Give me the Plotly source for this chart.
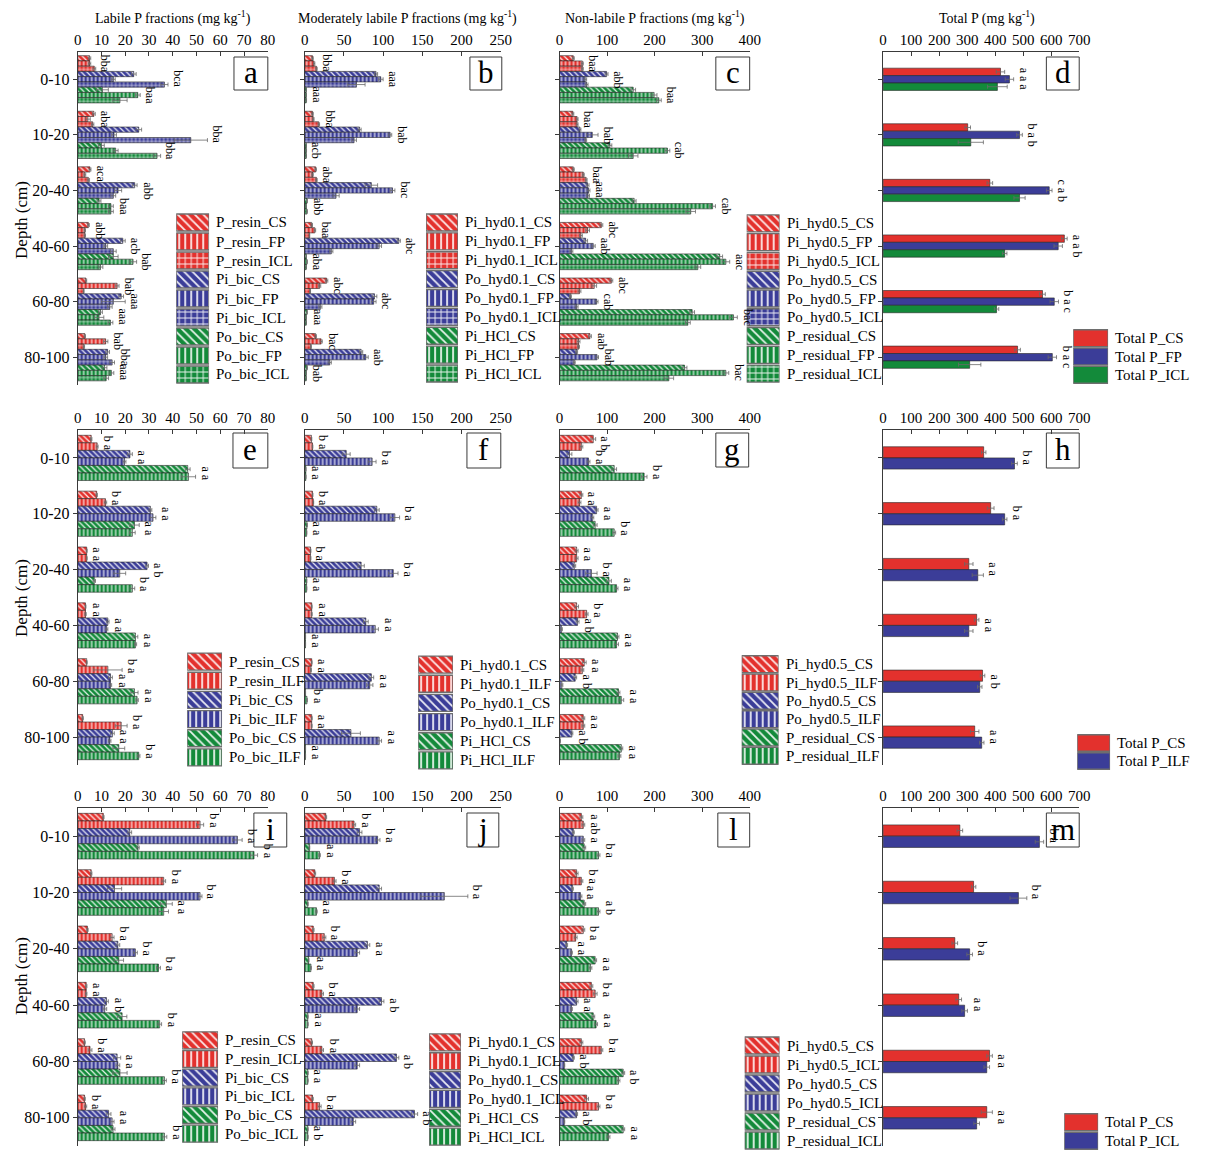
import plotly.graph_objects as go

W, H = 1210, 1151
SERIF = "Liberation Serif"
DEPTHS = ["0-10", "10-20", "20-40", "40-60", "60-80", "80-100"]
RED, BLUE, GREEN = "#E3312D", "#3B3D98", "#138A3A"

# ---------------- Row 1: CS / FP / ICL ----------------
a_names = ["P_resin_CS", "P_resin_FP", "P_resin_ICL",
           "Pi_bic_CS", "Pi_bic_FP", "Pi_bic_ICL",
           "Po_bic_CS", "Po_bic_FP", "Po_bic_ICL"]
a_vals = [
    [5.0, 6.8, 5.2, 4.5, 3.5, 3.0],
    [5.0, 4.3, 3.0, 3.0, 16.6, 11.8],
    [7.0, 6.3, 4.5, 3.0, 2.5, 2.6],
    [23.6, 25.7, 24.0, 19.0, 18.3, 12.6],
    [15.0, 15.3, 17.0, 11.8, 15.0, 11.8],
    [36.5, 47.6, 15.0, 15.0, 13.5, 14.5],
    [10.4, 10.0, 9.0, 15.0, 9.6, 11.3],
    [25.3, 16.0, 14.0, 23.3, 9.0, 14.2],
    [17.8, 33.4, 14.0, 9.6, 13.8, 12.0],
]
a_errs = [
    [0.5, 0.6, 0.4, 0.4, 0.3, 0.3],
    [0.5, 1.0, 0.4, 0.3, 0.8, 0.9],
    [0.6, 0.5, 0.5, 0.3, 0.2, 0.3],
    [1.0, 1.2, 1.0, 1.0, 1.0, 0.8],
    [0.8, 1.0, 1.5, 0.8, 5.0, 0.8],
    [1.5, 7.0, 1.0, 1.2, 1.0, 1.0],
    [2.5, 1.2, 0.8, 2.0, 0.8, 1.0],
    [1.0, 1.0, 1.0, 1.5, 2.0, 1.0],
    [3.0, 1.5, 1.0, 1.0, 1.0, 1.0],
]
a_sig = [["bba", "bca", "baa"], ["aba", "bba", "bba"], ["aca", "abb", "baa"],
         ["abb", "acb", "bab"], ["bab", "aaa", "aaa"], ["bab", "bba", "aaa"]]

b_names = ["Pi_hyd0.1_CS", "Pi_hyd0.1_FP", "Pi_hyd0.1_ICL",
           "Po_hyd0.1_CS", "Po_hyd0.1_FP", "Po_hyd0.1_ICL",
           "Pi_HCl_CS", "Pi_HCl_FP", "Pi_HCl_ICL"]
b_vals = [
    [10, 10, 14, 9, 28, 14],
    [12, 11, 10, 13, 19, 21],
    [15, 18, 15, 6, 7, 8],
    [91, 70, 85, 120, 89, 72],
    [97, 109, 112, 95, 88, 78],
    [66, 63, 40, 34, 20, 32],
    [2, 2, 3, 2, 3, 3],
    [2, 2, 2, 3, 2, 2],
    [2, 2, 3, 2, 2, 2],
]
b_errs = [
    [1, 1, 1, 1, 1.5, 1],
    [1, 1, 1, 1, 1.5, 1.5],
    [1, 1, 1, 0.5, 0.5, 0.5],
    [2, 2, 8, 2, 3, 2],
    [3, 2, 3, 3, 3, 3],
    [11, 3, 4, 2, 2, 2],
    [0.3, 0.3, 0.4, 0.3, 0.3, 0.4],
    [0.3, 0.4, 0.3, 0.3, 0.3, 0.3],
    [0.4, 0.3, 0.3, 0.3, 0.3, 0.3],
]
b_sig = [["bba", "aaa", "aaa"], ["bba", "bab", "acb"], ["aba", "bac", "abb"],
         ["baa", "abc", "aba"], ["abc", "abc", "aaa"], ["bac", "aab", "bab"]]

c_names = ["Pi_hyd0.5_CS", "Pi_hyd0.5_FP", "Pi_hyd0.5_ICL",
           "Po_hyd0.5_CS", "Po_hyd0.5_FP", "Po_hyd0.5_ICL",
           "P_residual_CS", "P_residual_FP", "P_residual_ICL"]
c_vals = [
    [29, 28, 29, 88, 109, 64],
    [48, 37, 50, 59, 73, 40],
    [48, 37, 56, 45, 42, 40],
    [99, 43, 59, 55, 23, 36],
    [54, 69, 61, 71, 78, 79],
    [57, 55, 60, 25, 36, 31],
    [155, 106, 157, 337, 279, 263],
    [199, 227, 322, 350, 366, 350],
    [209, 155, 276, 291, 270, 230],
]
c_errs = [
    [2, 2, 2, 3, 3, 3],
    [2, 2, 2, 4, 5, 3],
    [2, 2, 2, 3, 3, 2],
    [3, 2, 3, 4, 2, 2],
    [3, 12, 3, 4, 3, 3],
    [3, 2, 3, 3, 3, 2],
    [5, 4, 4, 6, 5, 5],
    [6, 5, 6, 8, 8, 6],
    [5, 10, 10, 6, 5, 10],
]
c_sig = [["baa", "abb", "baa"], ["baa", "bab", "cab"], ["baa", "aaa", "cab"],
         ["abc", "aab", "aac"], ["abc", "cab", "bac"], ["aab", "bab", "bac"]]

d_names = ["Total P_CS", "Total P_FP", "Total P_ICL"]
d_vals = [
    [419, 302, 381, 647, 569, 480],
    [451, 487, 593, 625, 611, 604],
    [408, 313, 487, 434, 405, 309],
]
d_errs = [
    [15, 10, 10, 10, 10, 10],
    [15, 10, 10, 15, 15, 15],
    [35, 45, 20, 8, 8, 40],
]
d_sig = [["a a a"], ["b a b"], ["c a b"], ["a a b"], ["b a c"], ["b a c"]]

# ---------------- Row 2: CS / ILF ----------------
e_names = ["P_resin_CS", "P_resin_ILF", "Pi_bic_CS", "Pi_bic_ILF",
           "Po_bic_CS", "Po_bic_ILF"]
e_vals = [
    [5.7, 8.0, 3.8, 3.3, 3.8, 2.1],
    [8.2, 11.7, 3.8, 3.3, 12.7, 18.3],
    [22.0, 30.6, 29.2, 12.7, 13.8, 14.6],
    [19.7, 31.7, 17.7, 12.2, 13.8, 13.5],
    [46.3, 23.9, 7.0, 24.3, 23.9, 17.3],
    [46.6, 23.0, 23.0, 24.3, 25.0, 25.7],
]
e_errs = [
    [0.3, 0.3, 0.2, 0.2, 0.2, 0.3],
    [0.4, 0.5, 0.2, 0.3, 6.0, 2.5],
    [1.0, 0.6, 0.6, 0.5, 0.8, 0.8],
    [0.6, 1.2, 2.5, 0.5, 0.5, 0.5],
    [1.0, 2.0, 0.5, 1.0, 1.5, 2.5],
    [3.0, 1.2, 1.0, 0.5, 0.5, 0.5],
]
e_sig = [["b a", "a a", "a a"], ["b a", "a a", "a a"], ["a a", "a b", "b a"],
         ["a a", "a a", "a a"], ["b a", "a a", "a a"], ["b a", "a a", "b a"]]

f_names = ["Pi_hyd0.1_CS", "Pi_hyd0.1_ILF", "Po_hyd0.1_CS", "Po_hyd0.1_ILF",
           "Pi_HCl_CS", "Pi_HCl_ILF"]
f_vals = [
    [8.6, 10, 7.5, 9, 9, 9],
    [10, 11, 7.5, 9, 8, 9],
    [53, 92, 72, 78, 85, 59],
    [86, 115, 113, 90, 83, 95],
    [1.5, 3, 2.5, 1, 1, 1],
    [1.5, 2.5, 2.5, 1, 3, 1],
]
f_errs = [
    [0.5, 0.6, 0.5, 0.5, 0.5, 0.6],
    [0.5, 0.5, 0.5, 0.6, 0.5, 0.5],
    [5, 3, 4, 3, 3, 12],
    [5, 6, 6, 4, 4, 3],
    [0.2, 0.3, 0.3, 0.2, 0.2, 0.2],
    [0.2, 0.3, 0.3, 0.2, 0.3, 0.2],
]
f_sig = [["b a", "b a", "a a"], ["b a", "b a", "a a"], ["b a", "b a", "a a"],
         ["a a", "a a", "a a"], ["a a", "a a", "b a"], ["a a", "a a", "a a"]]

g_names = ["Pi_hyd0.5_CS", "Pi_hyd0.5_ILF", "Po_hyd0.5_CS", "Po_hyd0.5_ILF",
           "P_residual_CS", "P_residual_ILF"]
g_vals = [
    [71, 46, 36, 36, 52, 50],
    [46, 42, 36, 57, 48, 50],
    [21, 78, 31, 38, 33, 26],
    [61, 69, 67, 4, 5, 1],
    [115, 75, 104, 122, 124, 130],
    [178, 115, 120, 120, 130, 126],
]
g_errs = [
    [5, 3, 3, 4, 4, 3],
    [3, 3, 3, 3, 3, 3],
    [5, 3, 3, 3, 3, 2],
    [3, 3, 12, 2, 2, 1],
    [5, 4, 5, 3, 3, 3],
    [6, 3, 3, 4, 5, 3],
]
g_sig = [["a b", "b a", "b a"], ["a a", "a a", "b a"], ["a a", "b a", "a a"],
         ["b a", "a b", "a a"], ["a a", "a b", "a a"], ["a a", "a b", "a a"]]

h_names = ["Total P_CS", "Total P_ILF"]
h_vals = [
    [359, 384, 306, 334, 355, 327],
    [469, 434, 338, 306, 345, 352],
]
h_errs = [
    [8, 12, 15, 8, 8, 15],
    [10, 8, 20, 15, 8, 8],
]
h_sig = [["b a"], ["b a"], ["a a"], ["a a"], ["a b"], ["a a"]]

# ---------------- Row 3: CS / ICL ----------------
i_names = ["P_resin_CS", "P_resin_ICL", "Pi_bic_CS", "Pi_bic_ICL",
           "Po_bic_CS", "Po_bic_ICL"]
i_vals = [
    [10.8, 5.7, 4.1, 3.6, 2.9, 2.9],
    [51.5, 36.2, 14.5, 3.6, 5.2, 3.3],
    [21.9, 15.5, 16.9, 12.1, 16.6, 13.0],
    [67.2, 51.5, 24.3, 11.4, 16.9, 14.5],
    [25.4, 37.3, 17.3, 18.7, 17.8, 14.9],
    [74.2, 36.2, 34.0, 34.5, 36.5, 36.5],
]
i_errs = [
    [0.3, 0.3, 0.3, 0.3, 0.3, 0.3],
    [1.5, 0.8, 0.8, 0.3, 0.8, 0.5],
    [0.8, 3.0, 0.8, 0.8, 1.5, 1.0],
    [2.0, 0.8, 0.8, 0.8, 0.8, 0.8],
    [0.5, 2.5, 2.0, 2.0, 3.0, 0.8],
    [1.5, 2.0, 0.8, 0.8, 0.8, 1.0],
]
i_sig = [["b a", "b a", "b a"], ["b a", "b a", "a a"], ["b a", "b a", "b a"],
         ["a a", "a b", "b a"], ["b a", "a a", "b a"], ["b a", "a a", "b a"]]

j_names = ["Pi_hyd0.1_CS", "Pi_hyd0.1_ICL", "Po_hyd0.1_CS", "Po_hyd0.1_ICL",
           "Pi_HCl_CS", "Pi_HCl_ICL"]
j_vals = [
    [27, 13, 11, 11, 9, 10],
    [63, 38, 25, 22, 22, 19],
    [70, 95, 80, 98, 117, 140],
    [93, 178, 67, 67, 67, 62],
    [6, 4, 5, 4, 4, 4],
    [19, 15, 8, 4, 4, 4],
]
j_errs = [
    [1, 1, 1, 1, 1, 1],
    [2, 2, 2, 2, 2, 2],
    [3, 3, 3, 3, 3, 4],
    [3, 30, 3, 3, 3, 3],
    [0.5, 0.5, 0.5, 0.5, 0.5, 0.5],
    [1, 1, 0.5, 0.5, 0.5, 0.5],
]
j_sig = [["b a", "b a", "a a"], ["b a", "b a", "a a"], ["b a", "a a", "a a"],
         ["b a", "a b", "a a"], ["b a", "a b", "a a"], ["b a", "a b", "a b"]]

l_names = ["Pi_hyd0.5_CS", "Pi_hyd0.5_ICL", "Po_hyd0.5_CS", "Po_hyd0.5_ICL",
           "P_residual_CS", "P_residual_ICL"]
l_vals = [
    [46, 36, 50, 67, 46, 57],
    [50, 46, 34, 75, 88, 82],
    [29, 27, 15, 36, 29, 36],
    [50, 44, 25, 25, 10, 10],
    [52, 52, 75, 71, 134, 134],
    [82, 82, 65, 77, 124, 103],
]
l_errs = [
    [3, 3, 3, 3, 3, 4],
    [3, 3, 3, 4, 3, 3],
    [2, 2, 2, 3, 2, 2],
    [3, 3, 2, 2, 1, 1],
    [3, 3, 3, 3, 3, 3],
    [3, 3, 3, 3, 3, 3],
]
l_sig = [["a a", "b a", "b a"], ["b a", "a a", "a b"], ["b a", "a a", "a a"],
         ["b a", "a a", "a a"], ["b a", "a b", "a b"], ["b a", "a b", "a a"]]

m_names = ["Total P_CS", "Total P_ICL"]
m_vals = [
    [274, 323, 256, 270, 380, 370],
    [558, 483, 309, 291, 370, 334],
]
m_errs = [
    [10, 8, 10, 10, 10, 20],
    [15, 30, 10, 10, 10, 10],
]
m_sig = [["b a"], ["b a"], ["b a"], ["a a"], ["a a"], ["a a"]]

# ---------------- layout geometry (pixels) ----------------
COLS = [(77, 268), (305, 502), (561, 752), (886, 1083)]
ROWS = [(51.5, 385), (430, 765), (808, 1146)]
XSCALE = [(80, 10), (250, 50), (400, 100), (700, 100)]


def PX(x):
    # horizontal pixel -> paper fraction (slight horizontal page scaling)
    return (x - 3.0) / 0.992 / W


def PY(y):
    return 1 - y / H


fig = go.Figure()
axes = {}
annotations = []
shapes = []
counter = [0]


def next_axes():
    counter[0] += 1
    n = counter[0]
    return "" if n == 1 else str(n)


def style_for(n_series, three_way, solid=False):
    if solid:
        return [RED, BLUE, GREEN][:n_series], [""] * n_series
    if three_way:
        return ([RED] * 3 + [BLUE] * 3 + [GREEN] * 3), ["\\", "|", "+"] * 3
    return ([RED] * 2 + [BLUE] * 2 + [GREEN] * 2), ["\\", "|"] * 3


def bar_marker(color, shape, size=4, lw=0.6, lc="#262626"):
    m = dict(color=color, line=dict(color=lc, width=lw))
    if shape:
        m["pattern"] = dict(shape=shape, fillmode="overlay", fgcolor="white",
                            fgopacity=0.9, size=size, solidity=0.3)
    return m


def draw_panel(row, col, names, vals, errs, sig, colors, pats, group, fill,
               label, box):
    sfx = next_axes()
    x0, x1 = COLS[col]
    y0, y1 = ROWS[row]
    xmax, dt = XSCALE[col]
    k = len(names)
    w = fill / k
    for i in range(k):
        fig.add_trace(go.Bar(
            x=vals[i], y=list(range(len(DEPTHS))), orientation="h",
            width=w, offset=-fill / 2 + i * w, name=names[i],
            error_x=dict(type="data", array=errs[i], color="#6a6a6a",
                         thickness=0.8, width=2),
            marker=bar_marker(colors[i], pats[i]),
            xaxis="x" + sfx, yaxis="y" + sfx, showlegend=False,
            hoverinfo="x+name"))
    # significance letters beside each group of bars
    for d in range(len(DEPTHS)):
        for g, txt in enumerate(sig[d]):
            idxs = range(g * group, (g + 1) * group)
            xend = max(vals[i][d] + errs[i][d] for i in idxs)
            yc = d - fill / 2 + (g * group + group / 2) * w
            annotations.append(dict(
                x=xend, y=yc, xref="x" + sfx, yref="y" + sfx, text=txt,
                textangle=90, xanchor="left", yanchor="middle",
                showarrow=False, xshift=1,
                font=dict(family=SERIF, size=12, color="black")))
    axes["xaxis" + sfx] = dict(
        domain=[PX(x0), PX(x1)], anchor="y" + sfx, side="top",
        range=[0, xmax], dtick=dt, tick0=0, showline=True,
        linecolor="#3a3a3a", linewidth=1, ticks="inside", ticklen=4,
        tickcolor="#3a3a3a", showgrid=False, zeroline=False,
        tickfont=dict(family=SERIF, size=15, color="black"), fixedrange=True)
    axes["yaxis" + sfx] = dict(
        domain=[PY(y1), PY(y0)], anchor="x" + sfx,
        range=[len(DEPTHS) - 0.5, -0.5], tickvals=list(range(len(DEPTHS))),
        ticktext=DEPTHS, showticklabels=(col == 0), showline=True,
        linecolor="#3a3a3a", linewidth=1, ticks="outside", ticklen=4,
        tickcolor="#3a3a3a", showgrid=False, zeroline=False,
        tickfont=dict(family=SERIF, size=16, color="black"), fixedrange=True)
    # panel letter in a framed box
    bx0, bx1, by0, by1 = box
    shapes.append(dict(type="rect", xref="paper", yref="paper",
                       x0=PX(bx0), x1=PX(bx1), y0=PY(by1), y1=PY(by0),
                       line=dict(color="#3a3a3a", width=1), fillcolor="white",
                       layer="below"))
    annotations.append(dict(x=PX((bx0 + bx1) / 2), y=PY((by0 + by1) / 2),
                            xref="paper", yref="paper", text=label,
                            showarrow=False, xanchor="center",
                            yanchor="middle", yshift=1,
                            font=dict(family=SERIF, size=31, color="black")))


def draw_legend(names, colors, pats, box):
    sfx = next_axes()
    lx0, lx1, ly0, ly1 = box
    k = len(names)
    step = (ly1 - ly0) / k
    hfrac = min(17.0 / step, 0.92)
    for i in range(k):
        fig.add_trace(go.Bar(
            x=[1], y=[i], orientation="h", width=hfrac,
            marker=bar_marker(colors[i], pats[i], size=6, lw=1.4,
                              lc="#6e6e6e"),
            xaxis="x" + sfx, yaxis="y" + sfx, showlegend=False,
            hoverinfo="skip"))
        annotations.append(dict(
            x=PX(lx1 + 5), y=PY(ly0 + step * (i + 0.5)),
            xref="paper", yref="paper", text=names[i], showarrow=False,
            xanchor="left", yanchor="middle",
            font=dict(family=SERIF, size=15, color="black")))
    axes["xaxis" + sfx] = dict(domain=[PX(lx0), PX(lx1)], anchor="y" + sfx,
                               range=[0, 1], visible=False, fixedrange=True)
    axes["yaxis" + sfx] = dict(domain=[PY(ly1), PY(ly0)],
                               anchor="x" + sfx, range=[k - 0.5, -0.5],
                               visible=False, fixedrange=True)


c9, p9 = style_for(9, True)
c6, p6 = style_for(6, False)
c3, p3 = style_for(3, False, solid=True)
c2, p2 = style_for(2, False, solid=True)

# row 1
draw_panel(0, 0, a_names, a_vals, a_errs, a_sig, c9, p9, 3, 0.85, "a", (234, 268, 57, 90))
draw_panel(0, 1, b_names, b_vals, b_errs, b_sig, c9, p9, 3, 0.85, "b", (471, 503, 57, 90))
draw_panel(0, 2, c_names, c_vals, c_errs, c_sig, c9, p9, 3, 0.85, "c", (718, 752, 57, 90))
draw_panel(0, 3, d_names, d_vals, d_errs, d_sig, c3, p3, 3, 0.40, "d", (1050, 1083, 57, 90))
# row 2
draw_panel(1, 0, e_names, e_vals, e_errs, e_sig, c6, p6, 2, 0.81, "e", (233, 268, 433, 468))
draw_panel(1, 1, f_names, f_vals, f_errs, f_sig, c6, p6, 2, 0.81, "f", (468, 502, 433, 468))
draw_panel(1, 2, g_names, g_vals, g_errs, g_sig, c6, p6, 2, 0.81, "g", (718, 751, 433, 467))
draw_panel(1, 3, h_names, h_vals, h_errs, h_sig, c2, p2, 2, 0.40, "h", (1050, 1083, 433, 468))
# row 3
draw_panel(2, 0, i_names, i_vals, i_errs, i_sig, c6, p6, 2, 0.81, "i", (254, 287, 813, 847))
draw_panel(2, 1, j_names, j_vals, j_errs, j_sig, c6, p6, 2, 0.81, "j", (468, 500, 813, 847))
draw_panel(2, 2, l_names, l_vals, l_errs, l_sig, c6, p6, 2, 0.81, "l", (720, 752, 813, 847))
draw_panel(2, 3, m_names, m_vals, m_errs, m_sig, c2, p2, 2, 0.40, "m", (1050, 1083, 813, 847))

# legends
draw_legend(a_names, c9, p9, (176, 209, 213, 384))
draw_legend(b_names, c9, p9, (427, 459, 213, 383))
draw_legend(c_names, c9, p9, (749, 782, 214, 383))
draw_legend(d_names, c3, p3, (1077, 1112, 329, 384))
draw_legend(e_names, c6, p6, (187, 222, 652, 767))
draw_legend(f_names, c6, p6, (419, 454, 655, 770))
draw_legend(g_names, c6, p6, (744, 781, 655, 765))
draw_legend(h_names, c2, p2, (1081, 1114, 734, 770))
draw_legend(i_names, c6, p6, (182, 218, 1031, 1143))
draw_legend(j_names, c6, p6, (430, 462, 1033, 1146))
draw_legend(l_names, c6, p6, (747, 782, 1036, 1150))
draw_legend(m_names, c2, p2, (1068, 1102, 1113, 1150))

# column titles above the first row
titles = [("Labile P fractions (mg kg<sup>-1</sup>)", 173),
          ("Moderately labile P fractions (mg kg<sup>-1</sup>)", 408),
          ("Non-labile P fractions (mg kg<sup>-1</sup>)", 657),
          ("Total P (mg kg<sup>-1</sup>)", 990)]
for txt, cx in titles:
    annotations.append(dict(x=PX(cx), y=PY(17), xref="paper",
                            yref="paper", text=txt, showarrow=False,
                            xanchor="center", yanchor="middle",
                            font=dict(family=SERIF, size=14, color="black")))

# depth axis titles
for cy in (220, 598, 976):
    annotations.append(dict(x=PX(20), y=PY(cy), xref="paper",
                            yref="paper", text="Depth (cm)", textangle=-90,
                            showarrow=False, xanchor="center",
                            yanchor="middle",
                            font=dict(family=SERIF, size=17, color="black")))

fig.update_layout(
    width=W, height=H, margin=dict(l=0, r=0, t=0, b=0),
    paper_bgcolor="white", plot_bgcolor="white", barmode="overlay",
    showlegend=False, annotations=annotations, shapes=shapes, **axes)

fig.write_html("out.html")
